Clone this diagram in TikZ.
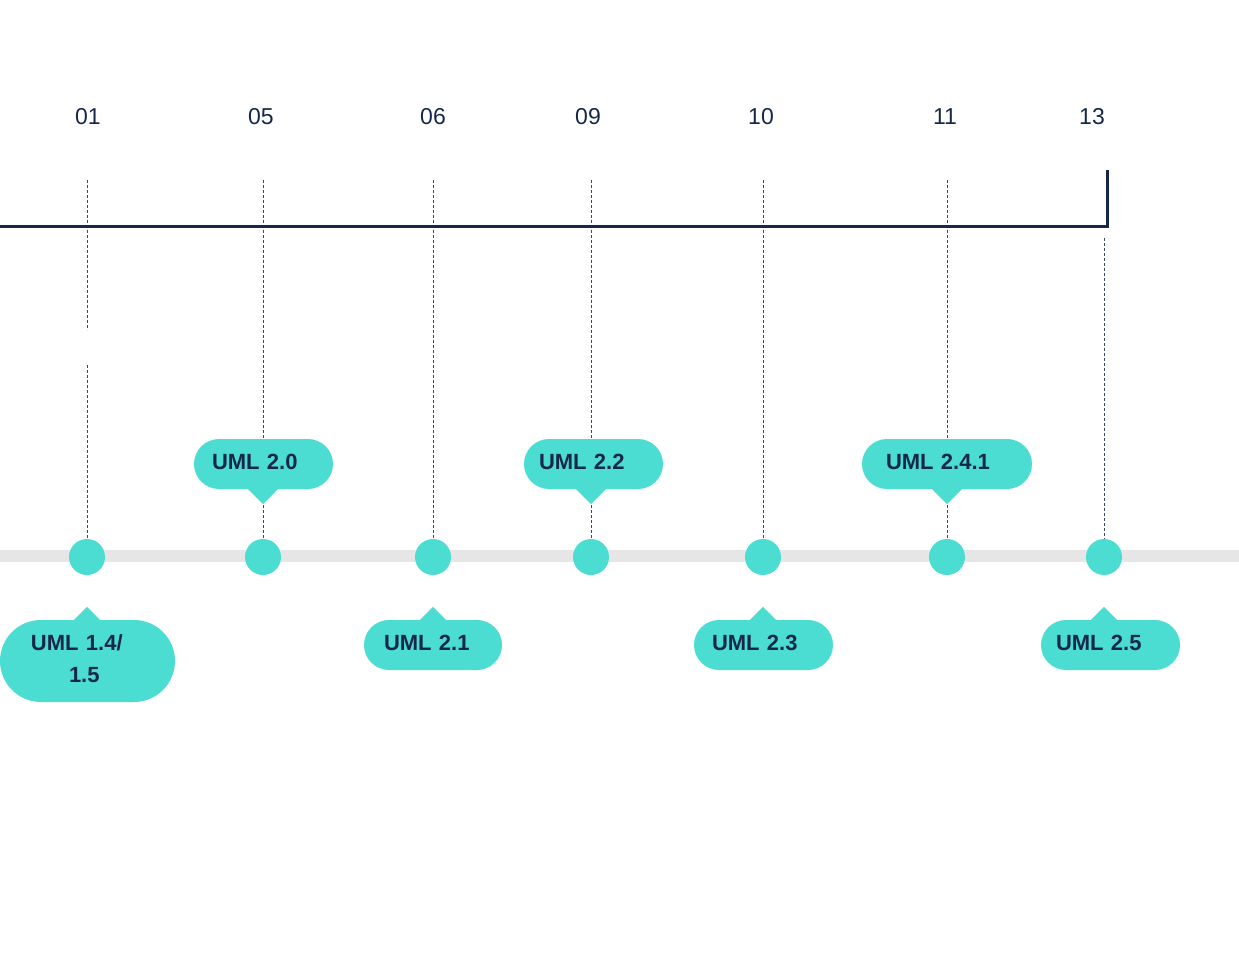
\documentclass[tikz,border=0pt]{standalone}
\usepackage{fontspec}
\setmainfont{Liberation Sans}
\usetikzlibrary{backgrounds,calc}
\definecolor{umlteal}{HTML}{4CDDD2}
\definecolor{umlnavy}{HTML}{15284A}
\definecolor{umlgray}{HTML}{E6E6E6}

\begin{document}
\begin{tikzpicture}[
    x=1pt, y=-1pt,
    year/.style={font=\fontsize{23}{28}\selectfont, text=umlnavy, inner sep=0pt},
    milestone/.style={circle, fill=umlteal, minimum size=36pt, inner sep=0pt},
    bubble/.style={rectangle, fill=umlteal, rounded corners=25pt, minimum height=50pt, inner xsep=18pt, text width=103pt, text depth=5pt, align=left, text=umlnavy, font=\fontsize{22}{32}\selectfont\bfseries},
    notch/.style={fill=umlteal},
    guide/.style={umlnavy!85, line width=1pt, dash pattern=on 3pt off 2pt},
    timeaxis/.style={umlnavy, line width=3pt, line join=miter},
    greybar/.style={umlgray, line width=12pt}
]
\useasboundingbox (0,0) rectangle (1239,957);

\node[year] (y01) at (88,117) {01};
\node[year] (y05) at (261,117) {05};
\node[year] (y06) at (433,117) {06};
\node[year] (y09) at (588,117) {09};
\node[year] (y10) at (761,117) {10};
\node[year] (y11) at (945,117) {11};
\node[year] (y13) at (1092,117) {13};

\draw[timeaxis] (0,227) -- (1107,227) -- (1107,170);

\node[milestone] (d01) at (87,557) {};
\node[milestone] (d05) at (263,557) {};
\node[milestone] (d06) at (433,557) {};
\node[milestone] (d09) at (591,557) {};
\node[milestone] (d10) at (763,557) {};
\node[milestone] (d11) at (947,557) {};
\node[milestone] (d13) at (1104,557) {};

\node[bubble] (b20) at (263.5,464) {UML 2.0};
\node[bubble, inner xsep=15pt, text width=109pt] (b22) at (593.5,464) {UML 2.2};
\node[bubble, inner xsep=24pt, text width=122pt] (b241) at (947,464) {UML 2.4.1};
\node[bubble, minimum height=82pt, rounded corners=41pt, inner xsep=14pt, text width=147pt, text depth=37pt] (b14) at (87.5,661) {\hspace*{17pt}UML 1.4/\\\hspace*{55pt}1.5};
\node[bubble, inner xsep=20pt, text width=98pt] (b21) at (433,645) {UML 2.1};
\node[bubble] (b23) at (763.5,645) {UML 2.3};
\node[bubble, inner xsep=15pt, text width=109pt] (b25) at (1110.5,645) {UML 2.5};

\foreach \dt/\bub in {d05/b20, d09/b22, d11/b241}
  \fill[notch] ($(\dt |- \bub.south)+(-15,0)$) -- ++(30,0) -- ++(-15,15) -- cycle;
\foreach \dt/\bub in {d01/b14, d06/b21, d10/b23, d13/b25}
  \fill[notch] ($(\dt |- \bub.north)+(-13,0)$) -- ++(26,0) -- ++(-13,-13) -- cycle;

\begin{scope}[on background layer]
\draw[greybar] (0,556) -- (1239,556);
\draw[guide] (d01 |- 0,180) -- (d01 |- 0,330);
\draw[guide] (d01 |- 0,365) -- (d01.center);
\foreach \dt in {d05,d06,d09,d10,d11}
  \draw[guide] (\dt |- 0,180) -- (\dt.center);
\draw[guide] (d13 |- 0,238) -- (d13.center);
\end{scope}
\end{tikzpicture}
\end{document}
